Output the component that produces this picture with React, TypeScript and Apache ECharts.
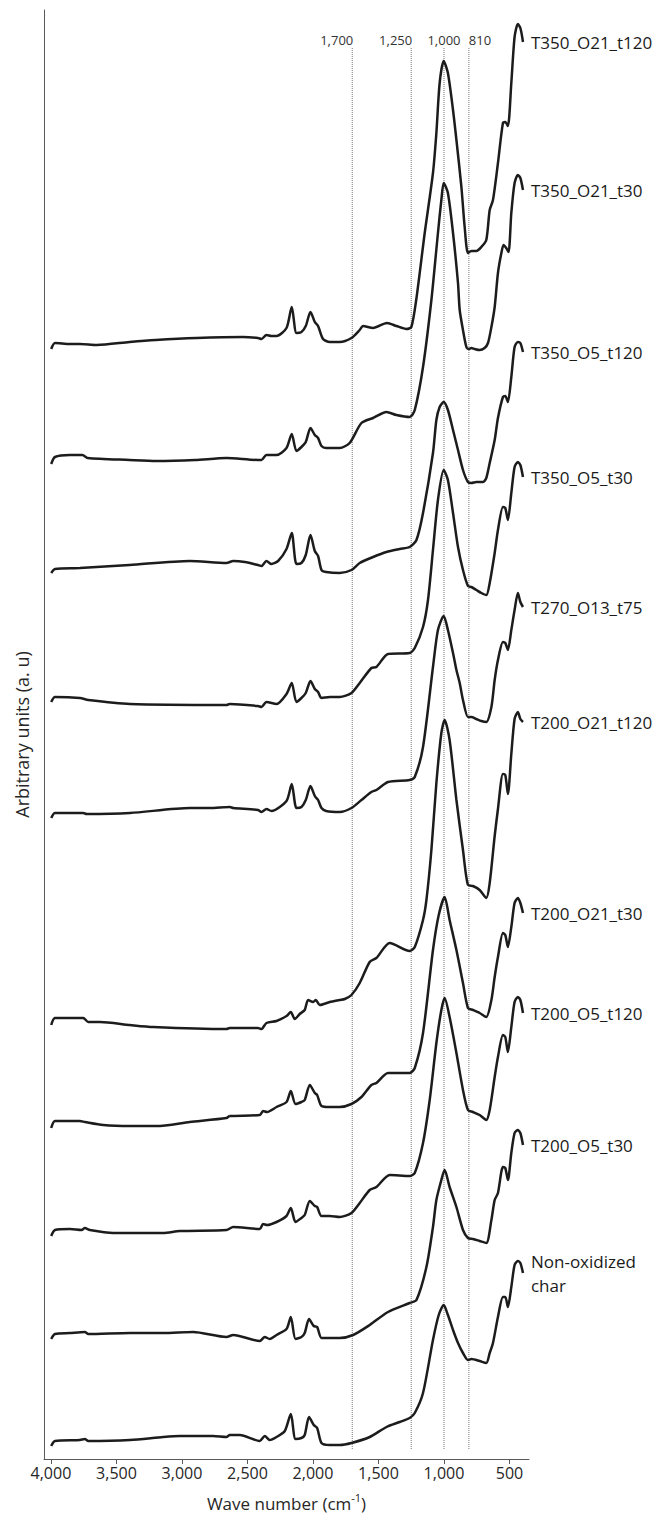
import { useEffect, useRef } from 'react';
import * as echarts from 'echarts';

// Stacked FTIR spectra (wave number in cm-1, offset absorbance in arbitrary units)
const sampleNames = [
  'T350_O21_t120',
  'T350_O21_t30',
  'T350_O5_t120',
  'T350_O5_t30',
  'T270_O13_t75',
  'T200_O21_t120',
  'T200_O21_t30',
  'T200_O5_t120',
  'T200_O5_t30',
  'Non-oxidized\nchar',
];

const t350_o21_t120: [number, number][] = [
  [3998, 1110], [3969, 1116], [3855, 1115], [3779, 1115], [3650, 1114], [3400, 1117], [3200, 1119],
  [2889, 1121], [2535, 1122], [2420, 1121], [2393, 1120], [2355, 1124], [2317, 1123], [2278, 1123],
  [2202, 1131], [2162, 1152], [2126, 1126], [2088, 1127], [2055, 1133], [2019, 1147], [1986, 1137],
  [1961, 1133], [1923, 1120], [1872, 1117], [1796, 1117], [1706, 1121], [1643, 1129], [1618, 1133],
  [1541, 1131], [1435, 1136], [1363, 1133], [1287, 1130], [1249, 1132], [1212, 1159], [1147, 1226],
  [1084, 1286], [1058, 1326], [1033, 1376], [1002, 1398], [970, 1386], [931, 1349], [905, 1319],
  [867, 1272], [842, 1232], [817, 1206], [791, 1208], [753, 1208], [715, 1212], [677, 1219],
  [651, 1249], [626, 1259], [588, 1296], [550, 1336], [532, 1337], [512, 1333], [486, 1376],
  [461, 1422], [436, 1435], [417, 1431], [397, 1417],
];

const t350_o21_t30: [number, number][] = [
  [3998, 995], [3969, 1002], [3855, 1004], [3760, 1004], [3720, 1001], [3400, 999], [3194, 998],
  [2900, 999], [2660, 1001], [2420, 999], [2393, 999], [2355, 1004], [2278, 1004], [2202, 1011],
  [2162, 1025], [2126, 1008], [2088, 1012], [2055, 1017], [2019, 1031], [1986, 1024], [1961, 1021],
  [1935, 1013], [1900, 1011], [1796, 1011], [1720, 1016], [1630, 1036], [1541, 1041], [1439, 1047],
  [1363, 1044], [1261, 1042], [1223, 1049], [1160, 1092], [1096, 1159], [1046, 1226], [1020, 1259],
  [1002, 1276], [970, 1266], [931, 1226], [893, 1176], [880, 1149], [855, 1129], [829, 1112],
  [812, 1110], [791, 1111], [766, 1110], [728, 1109], [690, 1111], [664, 1116], [638, 1132],
  [613, 1152], [588, 1186], [562, 1206], [545, 1214], [525, 1211], [507, 1207], [486, 1246],
  [461, 1276], [436, 1284], [417, 1281], [397, 1269],
];

const t350_o5_t120: [number, number][] = [
  [3998, 886], [3969, 890], [3779, 891], [3400, 894], [2940, 898], [2660, 896], [2609, 898],
  [2520, 897], [2420, 894], [2393, 893], [2355, 898], [2317, 895], [2266, 898], [2202, 910],
  [2162, 926], [2126, 895], [2088, 896], [2055, 904], [2019, 924], [1986, 908], [1961, 903],
  [1935, 889], [1900, 887], [1796, 886], [1706, 889], [1643, 896], [1541, 902], [1439, 907],
  [1338, 910], [1262, 912], [1210, 919], [1160, 946], [1084, 1006], [1058, 1039], [1033, 1052],
  [1002, 1057], [970, 1049], [931, 1029], [893, 1009], [855, 989], [817, 977], [791, 976],
  [753, 977], [702, 977], [677, 981], [651, 996], [613, 1019], [588, 1041], [550, 1062],
  [532, 1063], [512, 1057], [486, 1082], [461, 1112], [436, 1117], [417, 1116], [397, 1107],
];

const t350_o5_t30: [number, number][] = [
  [3998, 757], [3969, 762], [3779, 761], [3715, 759], [3397, 755], [2660, 754], [2635, 755],
  [2420, 753], [2393, 752], [2355, 757], [2278, 755], [2202, 765], [2162, 776], [2126, 757],
  [2088, 761], [2055, 766], [2019, 778], [1986, 770], [1961, 767], [1935, 761], [1872, 762],
  [1796, 762], [1706, 766], [1643, 776], [1554, 791], [1516, 792], [1427, 805], [1262, 806],
  [1223, 811], [1160, 832], [1122, 859], [1084, 909], [1046, 959], [1002, 989], [970, 979],
  [931, 946], [893, 912], [855, 889], [817, 873], [791, 872], [753, 869], [715, 866],
  [677, 864], [651, 876], [613, 906], [588, 929], [550, 952], [532, 951], [512, 939],
  [486, 966], [461, 992], [436, 997], [417, 994], [397, 982],
];

const t270_o13_t75: [number, number][] = [
  [3998, 641], [3969, 646], [3754, 646], [3728, 645], [3397, 646], [2940, 651], [2787, 651],
  [2635, 652], [2609, 651], [2420, 649], [2393, 647], [2355, 650], [2317, 648], [2202, 658],
  [2162, 675], [2126, 651], [2088, 652], [2055, 659], [2019, 673], [1986, 663], [1961, 659],
  [1935, 651], [1900, 648], [1796, 647], [1706, 651], [1630, 659], [1554, 667], [1516, 669],
  [1427, 677], [1262, 679], [1223, 682], [1160, 712], [1084, 792], [1046, 829], [1002, 843],
  [970, 829], [931, 806], [905, 789], [880, 776], [855, 759], [817, 742], [791, 742],
  [753, 740], [715, 738], [677, 737], [638, 752], [613, 779], [588, 799], [550, 817],
  [532, 816], [512, 809], [486, 829], [461, 849], [436, 866], [417, 857], [397, 852],
];

const t200_o21_t120: [number, number][] = [
  [3998, 434], [3969, 441], [3754, 441], [3715, 437], [3626, 437], [3397, 434], [3220, 432],
  [2660, 430], [2635, 431], [2420, 431], [2393, 430], [2355, 436], [2278, 438], [2202, 443],
  [2169, 447], [2139, 440], [2101, 445], [2063, 449], [2037, 459], [1999, 457], [1978, 459],
  [1948, 454], [1872, 457], [1796, 459], [1757, 460], [1706, 464], [1643, 476], [1567, 497],
  [1516, 501], [1414, 516], [1262, 508], [1223, 512], [1160, 539], [1134, 559], [1096, 609],
  [1058, 676], [1020, 726], [995, 739], [957, 719], [905, 659], [855, 609], [817, 574],
  [779, 573], [728, 569], [677, 561], [651, 576], [613, 623], [588, 650], [550, 685],
  [532, 684], [512, 665], [486, 705], [461, 740], [436, 747], [417, 740], [397, 737],
];

const t200_o21_t30: [number, number][] = [
  [3998, 331], [3969, 338], [3779, 338], [3741, 337], [3601, 334], [3397, 333], [3194, 333],
  [2940, 337], [2660, 341], [2635, 343], [2406, 344], [2381, 348], [2350, 347], [2278, 352],
  [2202, 357], [2169, 368], [2133, 355], [2088, 357], [2063, 359], [2024, 374], [1986, 366],
  [1968, 364], [1935, 353], [1872, 352], [1796, 352], [1706, 355], [1630, 362], [1554, 374],
  [1516, 376], [1427, 386], [1262, 386], [1223, 391], [1160, 426], [1084, 509], [1040, 544],
  [995, 562], [957, 539], [905, 509], [855, 476], [817, 451], [779, 449], [728, 446],
  [677, 442], [638, 459], [613, 482], [588, 502], [550, 526], [532, 524], [512, 512],
  [486, 532], [461, 556], [436, 561], [417, 556], [397, 546],
];

const t200_o5_t120: [number, number][] = [
  [3998, 223], [3969, 229], [3855, 230], [3766, 229], [3741, 231], [3703, 229], [3525, 226],
  [3397, 226], [3143, 226], [3016, 228], [2660, 229], [2609, 232], [2406, 230], [2381, 235],
  [2350, 234], [2278, 237], [2202, 243], [2169, 251], [2133, 237], [2088, 241], [2063, 244],
  [2024, 258], [1986, 253], [1968, 252], [1935, 243], [1872, 243], [1796, 242], [1706, 246],
  [1643, 256], [1567, 269], [1516, 272], [1414, 284], [1262, 283], [1223, 286], [1160, 316],
  [1109, 359], [1058, 416], [1020, 449], [995, 461], [957, 442], [905, 406], [855, 369],
  [817, 349], [779, 347], [728, 344], [677, 339], [651, 349], [613, 382], [588, 402],
  [550, 424], [532, 422], [512, 407], [486, 432], [461, 457], [436, 462], [417, 459], [397, 446],
];

const t200_o5_t30: [number, number][] = [
  [3998, 120], [3969, 125], [3855, 126], [3741, 127], [3715, 125], [3397, 126], [3143, 126],
  [2914, 127], [2660, 122], [2609, 124], [2406, 118], [2368, 122], [2330, 120], [2278, 124],
  [2202, 130], [2169, 142], [2133, 120], [2088, 122], [2063, 126], [2030, 140], [1994, 133],
  [1968, 132], [1935, 121], [1872, 121], [1796, 121], [1694, 124], [1567, 134], [1427, 147],
  [1262, 156], [1210, 159], [1134, 192], [1084, 232], [1058, 259], [1020, 279], [995, 289],
  [957, 272], [905, 252], [855, 229], [817, 221], [779, 220], [728, 218], [677, 216],
  [638, 239], [613, 259], [588, 266], [550, 292], [532, 291], [512, 279], [486, 306],
  [461, 326], [436, 329], [417, 326], [397, 314],
];

const nonOxidizedChar: [number, number][] = [
  [3998, 13], [3969, 18], [3779, 19], [3741, 20], [3715, 18], [3397, 19], [3143, 22],
  [3016, 23], [2762, 23], [2660, 22], [2635, 24], [2558, 24], [2406, 18], [2368, 23],
  [2330, 19], [2278, 22], [2215, 28], [2169, 45], [2133, 20], [2088, 21], [2063, 24],
  [2030, 42], [1994, 34], [1968, 31], [1935, 16], [1872, 14], [1796, 14], [1706, 16],
  [1567, 22], [1439, 32], [1338, 37], [1262, 41], [1223, 46], [1160, 66], [1084, 119],
  [1040, 144], [1002, 154], [970, 144], [931, 129], [893, 116], [855, 106], [817, 99],
  [791, 100], [728, 98], [677, 96], [651, 106], [626, 116], [588, 142], [550, 162],
  [532, 162], [512, 152], [486, 172], [461, 194], [436, 198], [417, 196], [397, 186],
];

const spectra = [
  t350_o21_t120, t350_o21_t30, t350_o5_t120, t350_o5_t30, t270_o13_t75,
  t200_o21_t120, t200_o21_t30, t200_o5_t120, t200_o5_t30, nonOxidizedChar,
];

// Reference bands marked with dotted lines
const bandWaveNumbers = [1700, 1250, 1000, 810];
const bandLabels = ['1,700', '1,250', '1,000', '810'];
const bandSpan = [10, 1412];

const xTickValues = [4000, 3500, 3000, 2500, 2000, 1500, 1000, 500];

const FONT = "'Open Sans', 'DejaVu Sans', sans-serif";
const INK = '#1c1c1c';
const AXIS = '#5a5a5a';

function buildOption() {
  const bandAlign = ['right', 'right', 'center', 'left'];

  const spectrumSeries = spectra.map((data, i) => ({
    type: 'line',
    name: sampleNames[i],
    data,
    symbol: 'none',
    smooth: 0.25,
    lineStyle: { color: INK, width: 2.5 },
    z: 3,
    endLabel: {
      show: true,
      formatter: () => sampleNames[i],
      align: 'left',
      verticalAlign: 'middle',
      distance: 0,
      offset: [8, 0],
      fontFamily: FONT,
      fontSize: 17,
      lineHeight: 24,
      color: '#1a1a1a',
    },
  }));

  const bandSeries = bandWaveNumbers.map((wn, i) => ({
    type: 'line',
    name: bandLabels[i],
    data: [[wn, bandSpan[0]], [wn, bandSpan[1]]],
    symbol: 'none',
    lineStyle: { color: '#7a7a7a', width: 1, type: 'dotted' },
    z: 1,
    endLabel: {
      show: true,
      formatter: () => bandLabels[i],
      align: bandAlign[i],
      verticalAlign: 'bottom',
      distance: 0,
      offset: [bandAlign[i] === 'right' ? 1 : 0, -1],
      fontFamily: FONT,
      fontSize: 13,
      color: '#333333',
    },
  }));

  return {
    animation: false,
    backgroundColor: '#ffffff',
    textStyle: { fontFamily: FONT },
    grid: { left: 44, right: 130, top: 10, bottom: 62 },
    xAxis: {
      type: 'value',
      inverse: true,
      min: 351,
      max: 4053,
      name: 'Wave number (cm{sup|-1})',
      nameLocation: 'middle',
      nameGap: 33,
      nameTextStyle: {
        fontSize: 17,
        color: '#262626',
        lineHeight: 22,
        rich: { sup: { fontSize: 11, lineHeight: 22, verticalAlign: 'top', color: '#262626' } },
      },
      axisLine: { show: true, lineStyle: { color: AXIS, width: 1 } },
      axisTick: { show: true, length: 5, customValues: xTickValues, lineStyle: { color: AXIS } },
      axisLabel: {
        show: true,
        customValues: xTickValues,
        fontSize: 16,
        color: '#262626',
        margin: 6,
        formatter: (v: number) => v.toLocaleString('en-US'),
      },
      splitLine: { show: false },
    },
    yAxis: {
      type: 'value',
      min: 0,
      max: 1449,
      name: 'Arbitrary units (a. u)',
      nameLocation: 'middle',
      nameGap: 13,
      nameTextStyle: { fontSize: 18, color: '#262626' },
      axisLine: { show: true, lineStyle: { color: AXIS, width: 1 } },
      axisTick: { show: false },
      axisLabel: { show: false },
      splitLine: { show: false },
    },
    series: [...bandSeries, ...spectrumSeries],
  };
}

export default function App() {
  const ref = useRef<HTMLDivElement>(null);
  useEffect(() => {
    if (!ref.current) return;
    const chart = echarts.init(ref.current, null, { renderer: 'svg' });
    chart.setOption(buildOption() as any);
    return () => chart.dispose();
  }, []);
  return (
    <div
      ref={ref}
      style={{ position: 'fixed', left: 0, top: 0, width: 659, height: 1521, background: '#ffffff' }}
    />
  );
}
